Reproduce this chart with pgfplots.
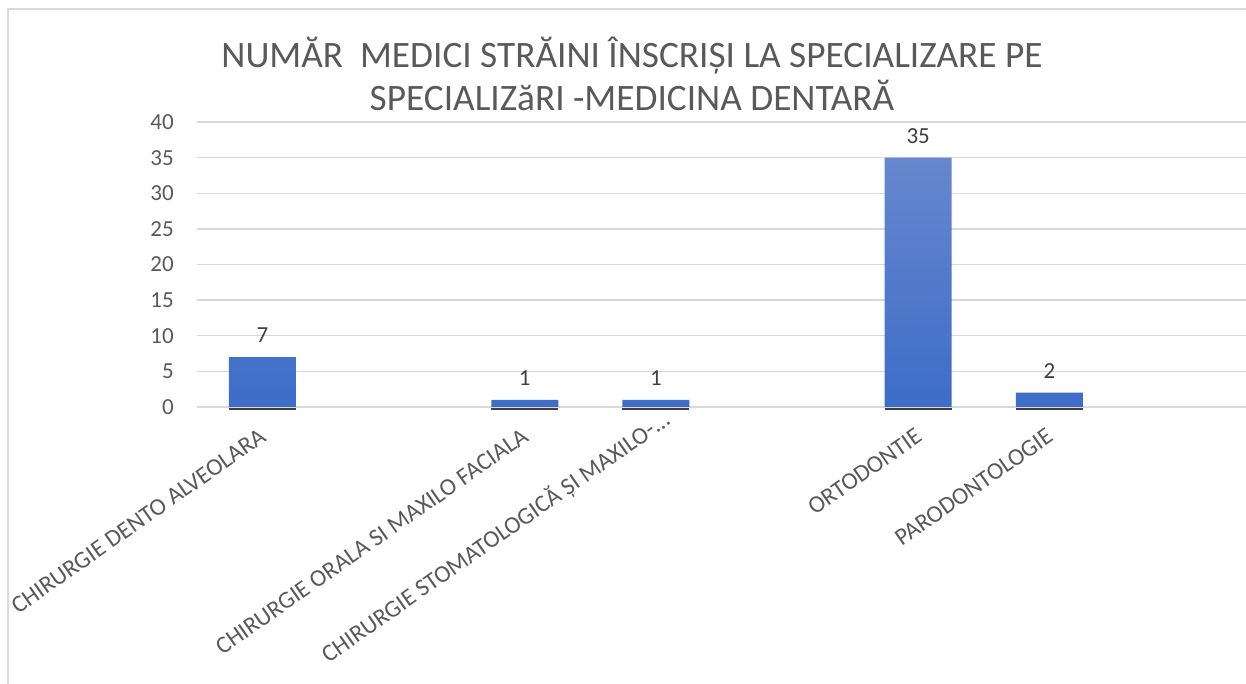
\documentclass[border=0pt]{standalone}
\usepackage{fontspec}
\setmainfont{Carlito}
\usepackage{pgfplots}
\pgfplotsset{compat=1.18}
\usepackage{pgfplotstable}
\definecolor{gridc}{HTML}{D9D9D9}
\definecolor{txtc}{HTML}{595959}
\definecolor{lblc}{HTML}{404040}
\definecolor{bartop}{HTML}{6787CE}
\definecolor{barbot}{HTML}{3D6DC8}
\pgfplotstableread{
x y
0 7
2 1
3 1
5 35
6 2
}\datatable
\begin{document}
\begin{tikzpicture}
\useasboundingbox (0pt,0pt) rectangle (1246pt,684pt);
\draw[gridc, line width=1.3pt] (8pt,-10pt) -- (8pt,675pt) -- (1300pt,675pt);
\begin{axis}[
  at={(196.9pt,277pt)}, anchor=south west,
  scale only axis, width=1049.3pt, height=285pt,
  xmin=-0.5, xmax=7.5, ymin=0, ymax=40,
  ytick={0,5,10,15,20,25,30,35,40},
  xtick={0,1,2,3,4,5,6,7},
  xticklabels={{CHIRURGIE DENTO ALVEOLARA},{},{CHIRURGIE ORALA SI MAXILO FACIALA},{\raisebox{7.5pt}{CHIRURGIE STOMATOLOGICĂ ȘI MAXILO-.{}.{}.}\hspace*{-18.8pt}},{},{ORTODONTIE},{PARODONTOLOGIE},{}},
  axis line style={draw=none},
  ymajorgrids,
  major grid style={gridc, line width=1.3pt},
  major tick length=0pt,
  tick label style={font=\fontsize{23}{27}\selectfont, text=txtc},
  /pgf/number format/assume math mode=true,
  yticklabel style={inner sep=0pt, xshift=-23pt},
  xticklabel style={font=\fontsize{24.2}{28}\selectfont, inner sep=0pt, text height=0.7em, text depth=0.25em, yshift=-27pt, xshift=1pt, anchor=north east, rotate=35},
  clip=false,
]
\addplot[ybar, bar width=67pt, draw=none, top color=bartop, bottom color=barbot,
  nodes near coords,
  nodes near coords style={font=\fontsize{23}{27}\selectfont, text=lblc, inner sep=0pt, yshift=14pt, anchor=south}]
  table[x=x, y=y]{\datatable};
\addplot[only marks, mark=-, mark size=33.5pt, mark options={line width=1.8pt, draw=lblc, yshift=-2pt}]
  table[x=x, y expr=0]{\datatable};
\end{axis}
\node[anchor=base, text=txtc, font=\fontsize{37.3}{44}\selectfont, inner sep=0pt] at (632pt,616pt) {NUMĂR\ \ MEDICI STRĂINI ÎNSCRIȘI LA SPECIALIZARE PE};
\node[anchor=base, text=txtc, font=\fontsize{37.3}{44}\selectfont, inner sep=0pt] at (632pt,573pt) {SPECIALIZăRI -MEDICINA DENTARĂ};
\end{tikzpicture}
\end{document}
